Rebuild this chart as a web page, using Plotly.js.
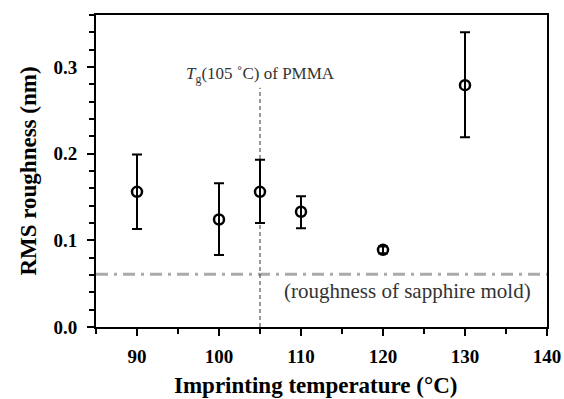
<!DOCTYPE html>
<html><head><meta charset="utf-8">
<script src="https://cdn.plot.ly/plotly-3.0.1.min.js"></script>
<style>html,body{margin:0;padding:0;background:#fff}#chart{width:564px;height:399px}</style>
</head><body><div id="chart"></div>
<script>
const temperatures = [90, 100, 105, 110, 120, 130];
const roughness = [0.156, 0.124, 0.156, 0.133, 0.089, 0.279];
const errUpper = [0.043, 0.042, 0.037, 0.018, 0.004, 0.061];
const errLower = [0.043, 0.041, 0.036, 0.019, 0.004, 0.060];
const tgTemp = 105;
const tgLineTop = 0.276;
const moldRoughness = 0.061;
const xTicks = [90, 100, 110, 120, 130, 140];
const yTicks = [0.0, 0.1, 0.2, 0.3];

const serif = "Liberation Serif, Times New Roman, serif";

const traces = [
  {x: [85, 140], y: [moldRoughness, moldRoughness], mode: 'lines',
   line: {color: '#aaaaaa', width: 3, dash: '12px,6px,3px,6px'}, hoverinfo: 'skip'},
  {x: [tgTemp, tgTemp], y: [0, tgLineTop], mode: 'lines',
   line: {color: '#333333', width: 1, dash: '4px,3px'}, hoverinfo: 'skip'},
  {x: temperatures, y: roughness, mode: 'markers', type: 'scatter',
   marker: {symbol: 'circle-open', size: 10, color: '#000', line: {width: 2.5, color: '#000'}},
   error_y: {type: 'data', symmetric: false, array: errUpper, arrayminus: errLower,
             color: '#000', thickness: 2, width: 5}}
];

const layout = {
  width: 564, height: 399,
  margin: {l: 96, r: 17, t: 15, b: 72},
  showlegend: false,
  plot_bgcolor: '#fff', paper_bgcolor: '#fff',
  xaxis: {
    range: [85, 140], tickvals: xTicks, ticktext: xTicks.map(String),
    ticks: 'outside', ticklen: 7, tickwidth: 2, tickcolor: '#000',
    minor: {dtick: 5, tick0: 85, ticks: 'outside', ticklen: 5, tickwidth: 2, tickcolor: '#000'},
    showline: true, linewidth: 2, linecolor: '#000', mirror: true,
    showgrid: false, zeroline: false, ticklabelstandoff: 4,
    tickfont: {family: serif, size: 19, color: '#000', weight: 'bold'}
  },
  yaxis: {
    range: [0, 0.36], tickvals: yTicks, ticktext: yTicks.map(v => v.toFixed(1)),
    ticks: 'outside', ticklen: 7, tickwidth: 2, tickcolor: '#000',
    minor: {dtick: 0.02, tick0: 0, ticks: 'outside', ticklen: 5, tickwidth: 2, tickcolor: '#000'},
    showline: true, linewidth: 2, linecolor: '#000', mirror: true,
    showgrid: false, zeroline: false, ticklabelstandoff: 6,
    tickfont: {family: serif, size: 19, color: '#000', weight: 'bold'},
    title: {text: '<b>RMS roughness (nm)</b>', font: {family: serif, size: 23, color: '#000'}, standoff: 10}
  },
  annotations: [
    {x: 0.4856, y: 0, xref: 'paper', yref: 'paper', xanchor: 'center', yanchor: 'middle',
     yshift: -58, showarrow: false,
     text: '<b>Imprinting temperature (°C)</b>', font: {family: serif, size: 23, color: '#000'}},
    {x: tgTemp, y: tgLineTop, xref: 'x', yref: 'y', yanchor: 'bottom', xanchor: 'center',
     text: '<i>T</i><sub>g</sub>(105 ˚C) of PMMA', showarrow: false, yshift: 0,
     font: {family: serif, size: 17, color: '#333'}},
    {x: 140, y: moldRoughness, xref: 'x', yref: 'y', xanchor: 'right', yanchor: 'top',
     text: '(roughness of sapphire mold)', showarrow: false, xshift: -14, yshift: -3,
     font: {family: serif, size: 21, color: '#333'}}
  ]
};

Plotly.newPlot('chart', traces, layout, {displayModeBar: false, staticPlot: true});
</script></body></html>
